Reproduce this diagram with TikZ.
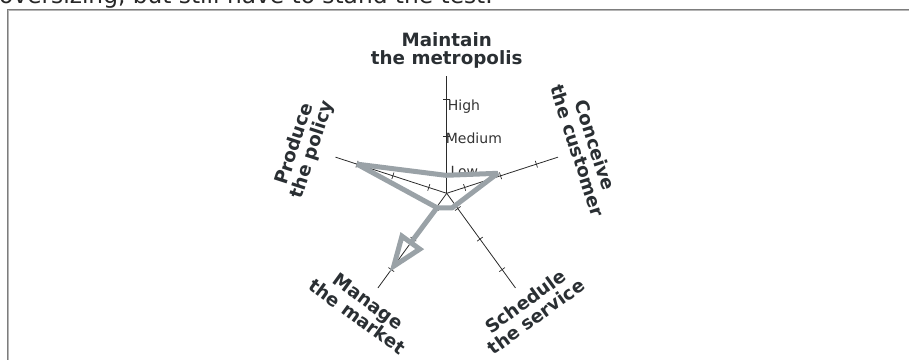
\documentclass[tikz,border=0pt]{standalone}
\usepackage{fontspec}
\setmainfont{DejaVu Sans}
\definecolor{axiscol}{HTML}{2B2B2B}
\definecolor{labelcol}{HTML}{2A2F33}
\definecolor{levelcol}{HTML}{333333}
\definecolor{trendcol}{HTML}{9AA2A7}
\definecolor{framedark}{HTML}{7D7D7D}
\definecolor{framelight}{HTML}{B5B5B5}
\begin{document}
\begin{tikzpicture}[x=1pt,y=1pt,
  axisline/.style={draw=axiscol, line width=0.8pt},
  tickmark/.style={draw=axiscol, line width=0.7pt},
  axislabel/.style={font=\bfseries\fontsize{18.3}{18.5}\selectfont, text=labelcol, align=center, inner sep=0pt},
  levellabel/.style={font=\fontsize{14}{16}\selectfont, text=levelcol, inner sep=0pt, anchor=base west},
  trend/.style={draw=trendcol, line width=5pt, line join=bevel},
]
\clip (0,0) rectangle (909,359);

% page frame
\draw[framedark, line width=1pt] (7,-5) -- (7,349.5) -- (915,349.5);
\draw[framelight, line width=1pt] (8,-5) -- (8,348.5) -- (915,348.5);

% running text above the frame
\node[anchor=base west, inner sep=0pt, font=\fontsize{23.3}{28}\selectfont, text=black!85] (caption) at (-1,355) {oversizing, but still have to stand the test.};

\begin{scope}[shift={(446.7,165.7)}]
  \coordinate (O) at (0,0);
  % five axes with three tick marks each
  \foreach \a in {90,18,-54,-126,162} {
    \begin{scope}[rotate=\a]
      \draw[axisline] (0,0) -- (117,0);
      \foreach \r in {18.85,56.6,94.3}
        \draw[tickmark] (\r,-3.5) -- (\r,3.5);
    \end{scope}
  }

  % level names on the vertical axis
  \node[levellabel] (lvhigh) at (1,83.1) {High};
  \node[levellabel] (lvmed) at (-1,49.8) {Medium};
  \node[levellabel] (lvlow) at (3.7,16.4) {Low};

  % axis titles
  \node[axislabel] (lbl-mt) at (90:143) {Maintain\\the metropolis};
  \node[axislabel, rotate=-72] (lbl-cc) at (18:147) {Conceive\\the customer};
  \node[axislabel, rotate=36] (lbl-ss) at (-54:143) {Schedule\\the service};
  \node[axislabel, rotate=-36] (lbl-mm) at (-126:143) {Manage\\the market};
  \node[axislabel, rotate=72] (lbl-pp) at (162:150) {Produce\\the policy};

  % profile
  \coordinate (v1) at (-1,18);
  \coordinate (v2) at (51,20);
  \coordinate (v3) at (5.3,-14.7);
  \coordinate (v4) at (-124:17.4);
  \coordinate (v5) at (162:94.3);
  \draw[trend] (v1) -- (v2) -- (v3) -- (v4) -- (v5) -- cycle;

  % trend arrow along the market axis
  \begin{scope}[rotate=-126]
    \coordinate (hb) at (61,0);
    \coordinate (hl) at (61,11);
    \coordinate (hr) at (61,-11);
    \coordinate (tip) at (90,0);
  \end{scope}
  \draw[trend] (v4) -- (hb);
  \draw[trend, line join=miter] (hl) -- (tip) -- (hr) -- cycle;
\end{scope}
\end{tikzpicture}
\end{document}
